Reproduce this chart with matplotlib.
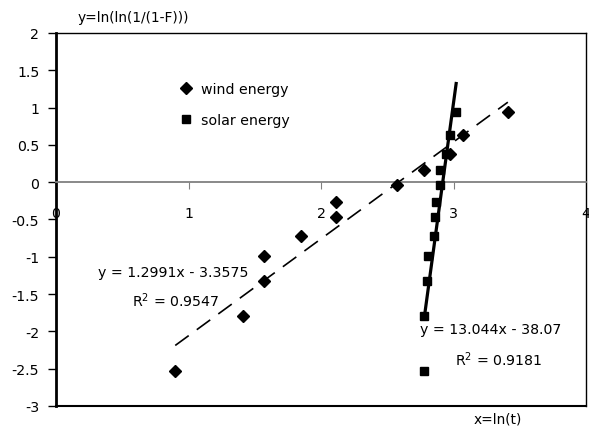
import matplotlib
matplotlib.use("Agg")
import matplotlib.pyplot as plt
import numpy as np

plt.rcParams['font.family'] = ['DejaVu Sans']

# Data
wind_x = [0.90, 1.41, 1.57, 1.57, 1.85, 2.11, 2.11, 2.57, 2.78, 2.97, 3.07, 3.41]
wind_y = [-2.53, -1.79, -1.33, -0.99, -0.72, -0.47, -0.26, -0.04, 0.17, 0.38, 0.63, 0.94]
solar_x = [2.78, 2.78, 2.80, 2.81, 2.85, 2.86, 2.87, 2.90, 2.90, 2.94, 2.97, 3.02]
solar_y = [-2.53, -1.79, -1.33, -0.99, -0.72, -0.47, -0.26, -0.04, 0.17, 0.38, 0.63, 0.94]

wind_fit = (1.2991, -3.3575)
solar_fit = (13.044, -38.07)
wind_r2 = 0.9547
solar_r2 = 0.9181

x_ticks = [0, 1, 2, 3, 4]
y_ticks = [2, 1.5, 1, 0.5, 0, -0.5, -1, -1.5, -2, -2.5, -3]

fig = plt.figure(figsize=(5.89, 4.27), dpi=100)
W, H = 589, 427
ax = fig.add_axes([56 / W, 1 - 407 / H, (586 - 56) / W, (407 - 34) / H])
ax.set_xlim(0, 4)
ax.set_ylim(-3, 2)

fs = 10.2
# trend lines
xw = np.array([min(wind_x), max(wind_x)])
ax.plot(xw, wind_fit[0] * xw + wind_fit[1], color='black', lw=1.2,
        dashes=(10, 6), zorder=2)
xs = np.array([min(solar_x), max(solar_x)])
ax.plot(xs, solar_fit[0] * xs + solar_fit[1], color='black', lw=2.3, zorder=2)

ax.plot(wind_x, wind_y, 'D', color='black', ms=5.8, ls='none',
        label='wind energy', zorder=3)
ax.plot(solar_x, solar_y, 's', color='black', ms=5.8, ls='none',
        label='solar energy', zorder=3)

# axes styling
ax.spines['bottom'].set_position(('data', 0))
ax.spines['bottom'].set_color('#808080')
ax.spines['bottom'].set_linewidth(1.3)
ax.spines['left'].set_linewidth(2)
ax.spines['top'].set_linewidth(1)
ax.spines['right'].set_linewidth(1)
ax.plot([0, 1], [0, 0], transform=ax.transAxes, color='black', lw=1.5,
        clip_on=False, zorder=5)

ax.set_xticks(x_ticks)
ax.set_xticklabels([str(t) for t in x_ticks])
ax.set_yticks(y_ticks)
ax.set_yticklabels([('%g' % t) for t in y_ticks])
ax.tick_params(axis='x', direction='out', length=5, color='#808080',
               pad=12, labelsize=fs)
ax.tick_params(axis='y', direction='out', length=6, width=1,
               pad=6, labelsize=fs)

leg = ax.legend(loc='upper left', bbox_to_anchor=(0.222, 0.884), frameon=False,
                fontsize=fs, handlelength=1.0, handletextpad=0.5,
                labelspacing=1.17, borderaxespad=0)

ax.text(0.318, -1.20, 'y = 1.2991x - 3.3575', fontsize=fs, va='center', ha='left')
ax.text(0.573, -1.58, 'R$^2$ = %.4f' % wind_r2, fontsize=fs, va='center', ha='left')
ax.text(2.747, -1.964, 'y = 13.044x - 38.07', fontsize=fs, va='center', ha='left')
ax.text(3.015, -2.37, 'R$^2$ = %.4f' % solar_r2, fontsize=fs, va='center', ha='left')

fig.text(78 / W, 1 - 18 / H, 'y=ln(ln(1/(1-F)))', fontsize=fs - 0.3, va='center', ha='left')
fig.text(474 / W, 1 - 420 / H, 'x=ln(t)', fontsize=fs - 0.3, va='center', ha='left')

fig.savefig('out.png', dpi=100)
